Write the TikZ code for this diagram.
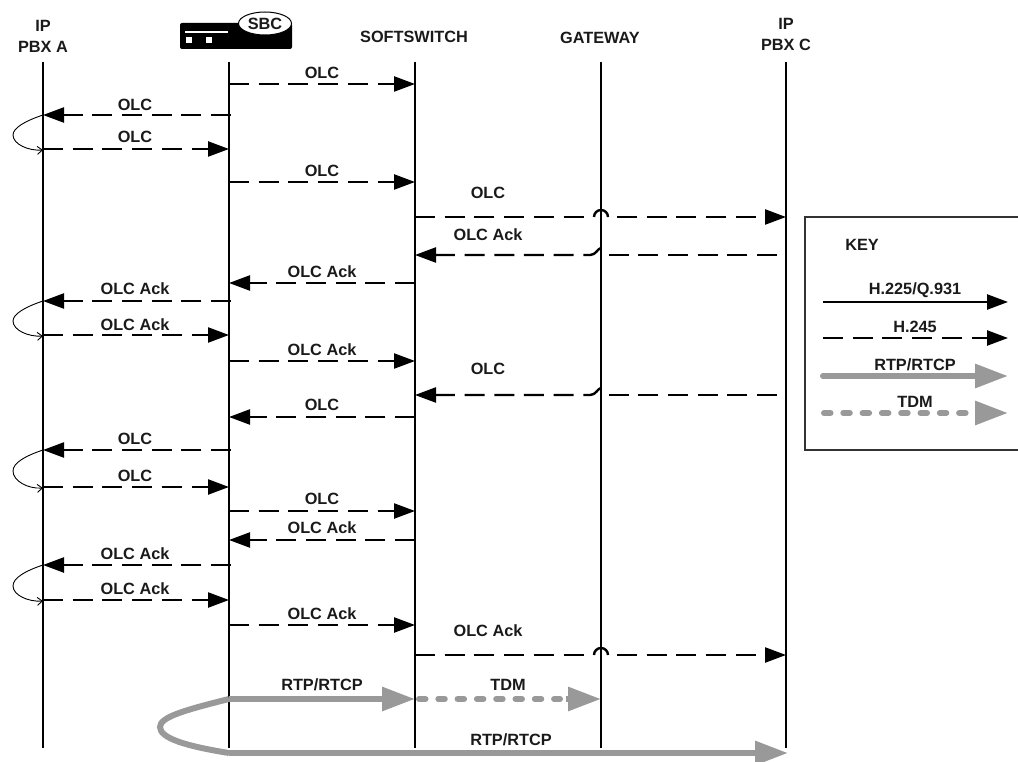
\documentclass[tikz,border=0pt]{standalone}
\usepackage{fontspec}
\setmainfont{Liberation Sans}
\usepackage{tikz}
\usetikzlibrary{arrows.meta,shapes.geometric}
\definecolor{MediaGray}{HTML}{999999}
\definecolor{LabelInk}{HTML}{1A1A1A}

\begin{document}
\begin{tikzpicture}[
  x=1pt,y=-1pt,
  every node/.style={font=\fontsize{16.3}{21}\selectfont\bfseries,align=center,text=LabelInk,inner sep=0pt},
  lifeline/.style={line width=1.3pt,black},
  sigsolid/.style={line width=2.4pt,-{Triangle[length=21pt,width=15pt]}},
  sigdash/.style={line width=2.4pt,dash pattern=on 20pt off 9.7pt,-{Triangle[length=21pt,width=15pt]}},
  sigtail/.style={line width=2.4pt,dash pattern=on 20pt off 9.7pt},
  bump/.style={line width=2.4pt},
  hairpin/.style={line width=0.9pt,-{Straight Barb[length=5pt,width=8pt]}},
  rtp/.style={line width=6pt,MediaGray,-{Triangle[length=33pt,width=23pt]}},
  rtpbend/.style={line width=6pt,MediaGray},
  tdm/.style={line width=6pt,MediaGray,dash pattern=on 6.5pt off 12.8pt,line cap=round},
  tdmhead/.style={line width=6pt,MediaGray,-{Triangle[length=33pt,width=23pt]}}
]
\useasboundingbox (0,0) rectangle (1018,762);

\coordinate (pbxa) at (43,62);
\coordinate (sbc) at (229,62);
\coordinate (soft) at (415,62);
\coordinate (gate) at (601,62);
\coordinate (pbxc) at (786,62);

\node (pbxatitle) at (43,36) {IP\\PBX A};
\node (softtitle) at (414,37) {SOFTSWITCH};
\node (gatetitle) at (600,38) {GATEWAY};
\node (pbxctitle) at (786,34) {IP\\PBX C};

\fill[black,rounded corners=2pt] (180,23) rectangle (292,49);
\draw[white,line width=1.2pt] (185,32) -- (228,32);
\fill[white] (186,37) rectangle (192,43);
\fill[white] (206,37) rectangle (212,43);
\node[draw=black,line width=1pt,fill=white,ellipse,minimum width=53pt,minimum height=23pt] (sbctitle) at (265,23.5) {SBC};

\foreach \life in {pbxa,sbc,soft,gate,pbxc}
  \draw[lifeline] (\life) -- (\life|-0,748);

\draw[sigdash] (sbc|-0,84) -- (soft|-0,84);
\node (m1) at (322,73) {OLC};
\draw[sigdash] (231,115) -- (pbxa|-0,115);
\node (m2) at (135,105) {OLC};
\draw[sigdash] (pbxa|-0,149) -- (sbc|-0,149);
\node (m3) at (135,137) {OLC};
\draw[sigdash] (sbc|-0,182) -- (soft|-0,182);
\node (m4) at (322,171) {OLC};

\draw[sigtail] (soft|-0,217) -- ([xshift=-11pt]gate|-0,217);
\draw[bump] ([xshift=-7pt]gate|-0,217) arc[start angle=180,end angle=0,radius=7pt];
\draw[sigdash] ([xshift=16pt]gate|-0,217) -- (pbxc|-0,217);
\node (m5) at (488,193) {OLC};

\draw[sigtail] ([xshift=-9pt]pbxc|-0,255) -- ([xshift=7pt]gate|-0,255);
\draw[sigdash] (gate|-0,248) .. controls (597,249) and (596,255) .. (590,255) -- (soft|-0,255);
\node (m6) at (488,235) {OLC Ack};

\draw[sigdash] (soft|-0,283) -- (sbc|-0,283);
\node (m7) at (322,272) {OLC Ack};
\draw[sigdash] (231,301) -- (pbxa|-0,301);
\node (m8) at (135,289) {OLC Ack};
\draw[sigdash] (pbxa|-0,335) -- (sbc|-0,335);
\node (m9) at (135,325) {OLC Ack};
\draw[sigdash] (sbc|-0,361) -- (soft|-0,361);
\node (m10) at (322,350) {OLC Ack};

\draw[sigtail] ([xshift=-9pt]pbxc|-0,395) -- ([xshift=7pt]gate|-0,395);
\draw[sigdash] (gate|-0,388) .. controls (597,389) and (596,395) .. (590,395) -- (soft|-0,395);
\node (m11) at (488,369) {OLC};

\draw[sigdash] (soft|-0,417) -- (sbc|-0,417);
\node (m12) at (322,405) {OLC};
\draw[sigdash] (231,450) -- (pbxa|-0,450);
\node (m13) at (135,439) {OLC};
\draw[sigdash] (pbxa|-0,487) -- (sbc|-0,487);
\node (m14) at (135,476) {OLC};
\draw[sigdash] (sbc|-0,511) -- (soft|-0,511);
\node (m15) at (322,499) {OLC};
\draw[sigdash] (soft|-0,540) -- (sbc|-0,540);
\node (m16) at (322,528) {OLC Ack};
\draw[sigdash] (231,565) -- (pbxa|-0,565);
\node (m17) at (135,554) {OLC Ack};
\draw[sigdash] (pbxa|-0,600) -- (sbc|-0,600);
\node (m18) at (135,589) {OLC Ack};
\draw[sigdash] (sbc|-0,625) -- (soft|-0,625);
\node (m19) at (322,614) {OLC Ack};

\draw[sigtail] (soft|-0,655) -- ([xshift=-11pt]gate|-0,655);
\draw[bump] ([xshift=-7pt]gate|-0,655) arc[start angle=180,end angle=0,radius=7pt];
\draw[sigdash] ([xshift=16pt]gate|-0,655) -- (pbxc|-0,655);
\node (m20) at (488,631) {OLC Ack};

\draw[hairpin] (pbxa|-0,115) .. controls (25,121) and (13,128) .. (13,135) .. controls (13,144) and (28,151) .. (pbxa|-0,150);
\draw[hairpin] (pbxa|-0,301) .. controls (25,307) and (13,314) .. (13,321) .. controls (13,330) and (28,337) .. (pbxa|-0,336);
\draw[hairpin] (pbxa|-0,450) .. controls (25,456) and (13,463) .. (13,471) .. controls (13,481) and (28,489) .. (pbxa|-0,488);
\draw[hairpin] (pbxa|-0,565) .. controls (25,571) and (13,578) .. (13,586) .. controls (13,595) and (28,602) .. (pbxa|-0,601);

\draw[rtp] (sbc|-0,699) -- (soft|-0,699);
\node (rtpa) at (322,685) {RTP/RTCP};
\draw[tdm] (419,699) -- (560,699);
\draw[tdmhead] (566,699) -- (gate|-0,699);
\node (tdmlabel) at (508,685) {TDM};
\draw[rtpbend] (sbc|-0,699) .. controls (185,710) and (160,717) .. (160,727) .. controls (160,738) and (185,746) .. (sbc|-0,753);
\draw[rtp] (sbc|-0,753) -- (788,753);
\node (rtpb) at (511,740) {RTP/RTCP};

\draw[line width=1.3pt,draw=black!80] (1018,217) -| (805,450) -- (1018,450);
\node (keytitle) at (862,245) {KEY};
\coordinate (keyl) at (823,0);
\coordinate (keyr) at (1008,0);
\draw[sigsolid] (keyl|-0,302) -- (keyr|-0,302);
\node (k1) at (915,290) {H.225/Q.931};
\draw[sigdash] (keyl|-0,338) -- (keyr|-0,338);
\node (k2) at (915,327) {H.245};
\draw[rtp,line cap=round] (keyl|-0,376) -- (keyr|-0,376);
\node (k3) at (915,365) {RTP/RTCP};
\draw[tdm] (824,413) -- (969,413);
\draw[tdmhead] (975,413) -- (keyr|-0,413);
\node (k4) at (915,402) {TDM};
\end{tikzpicture}
\end{document}
